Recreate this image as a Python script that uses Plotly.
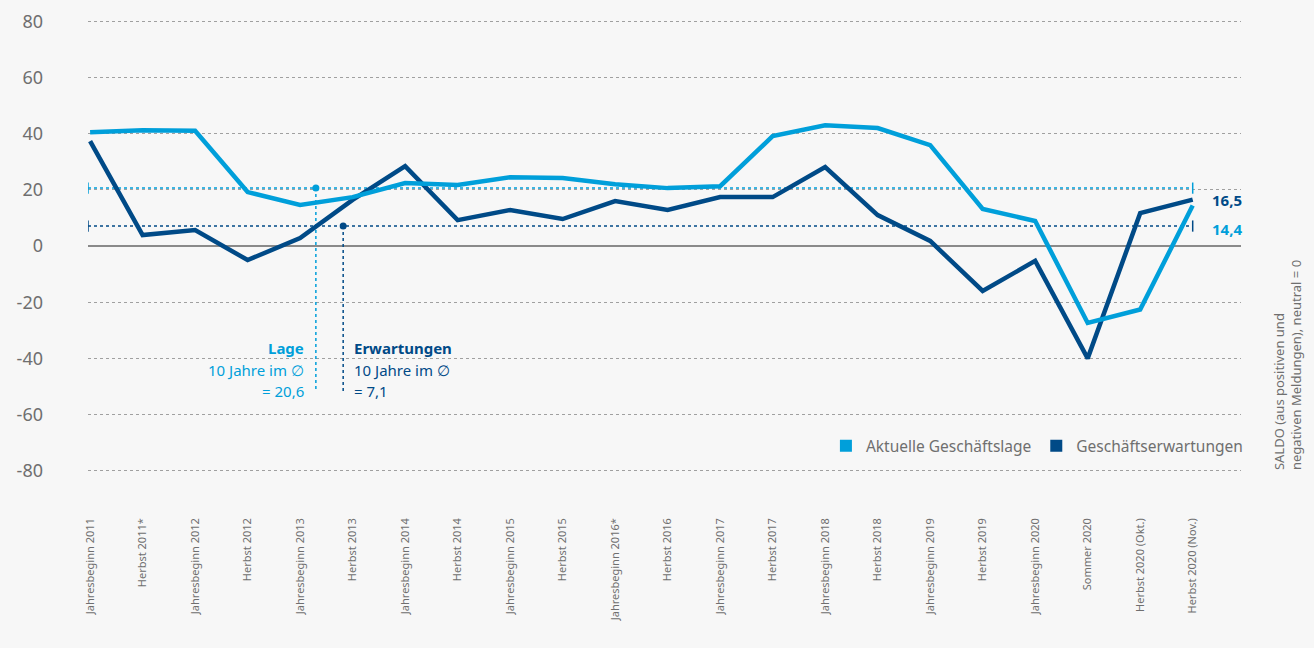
import plotly.graph_objects as go

# Kategorien (x-Achse)
categories = [
    "Jahresbeginn 2011", "Herbst 2011*", "Jahresbeginn 2012", "Herbst 2012",
    "Jahresbeginn 2013", "Herbst 2013", "Jahresbeginn 2014", "Herbst 2014",
    "Jahresbeginn 2015", "Herbst 2015", "Jahresbeginn 2016*", "Herbst 2016",
    "Jahresbeginn 2017", "Herbst 2017", "Jahresbeginn 2018", "Herbst 2018",
    "Jahresbeginn 2019", "Herbst 2019", "Jahresbeginn 2020", "Sommer 2020",
    "Herbst 2020 (Okt.)", "Herbst 2020 (Nov.)",
]

# Saldo-Werte
lage = [40.5, 41.2, 41.0, 19.2, 14.6, 17.4, 22.4, 21.7, 24.5, 24.2, 22.0,
        20.6, 21.3, 39.1, 43.0, 42.0, 35.9, 13.2, 8.9, -27.4, -22.6, 14.4]
erwartungen = [37.3, 3.9, 5.7, -5.0, 2.8, 16.4, 28.4, 9.2, 12.8, 9.6, 16.0,
               12.8, 17.4, 17.4, 28.1, 11.0, 1.8, -16.0, -5.3, -40.0, 11.7, 16.5]

avg_lage = 20.6
avg_erwartungen = 7.1

y_ticks = [-80, -60, -40, -20, 0, 20, 40, 60, 80]
y_ticktext = ["-80", "-60", "-40", "-20", "0", "20", "40", "60", "80"]

LIGHT = "#009fda"
DARK = "#004a87"
GRAY = "#6f6f6f"
FONT = "Noto Sans"

x_idx = list(range(len(categories)))
last = x_idx[-1]

fig = go.Figure()

# Durchschnittslinien (gepunktet, mit Endstrichen)
for val, col in [(avg_lage, LIGHT), (avg_erwartungen, DARK)]:
    fig.add_trace(go.Scatter(
        x=[-0.04, last], y=[val, val], mode="lines+markers",
        line=dict(color=col, width=1.5, dash="dot"),
        marker=dict(symbol="line-ns", size=8, line=dict(color=col, width=1.5)),
        showlegend=False, hoverinfo="skip"
    ))

# Senkrechte Hinweislinien zu den Durchschnittswerten
for xv, val, col in [(4.3, avg_lage, LIGHT), (4.82, avg_erwartungen, DARK)]:
    fig.add_trace(go.Scatter(
        x=[xv, xv], y=[val, -52], mode="lines",
        line=dict(color=col, width=1.5, dash="dot"),
        showlegend=False, hoverinfo="skip"
    ))
    fig.add_trace(go.Scatter(
        x=[xv], y=[val], mode="markers",
        marker=dict(color=col, size=7),
        showlegend=False, hoverinfo="skip"
    ))

# Hauptlinien
fig.add_trace(go.Scatter(
    x=x_idx, y=erwartungen, mode="lines",
    line=dict(color=DARK, width=4.5), showlegend=False
))
fig.add_trace(go.Scatter(
    x=x_idx, y=lage, mode="lines",
    line=dict(color=LIGHT, width=4.5), showlegend=False
))

# Legende mit quadratischen Markern
for name, col in [("Aktuelle Geschäftslage", LIGHT), ("Geschäftserwartungen", DARK)]:
    fig.add_trace(go.Scatter(
        x=[None], y=[None], mode="markers", name=name,
        marker=dict(symbol="square", size=17, color=col)
    ))

annotations = [
    dict(x=last + 0.33, y=16.5, text="<b>16,5</b>", font=dict(color=DARK, size=15),
         xanchor="left", yanchor="middle"),
    dict(x=last + 0.33, y=6.2, text="<b>14,4</b>", font=dict(color=LIGHT, size=15),
         xanchor="left", yanchor="middle"),
    dict(x=4.12, y=-36.3, text="<b>Lage</b>", font=dict(color=LIGHT, size=15),
         xanchor="right", yanchor="middle"),
    dict(x=4.12, y=-44.0, text="10 Jahre im ∅", font=dict(color=LIGHT, size=15),
         xanchor="right", yanchor="middle"),
    dict(x=4.12, y=-51.5, text="= 20,6", font=dict(color=LIGHT, size=15),
         xanchor="right", yanchor="middle"),
    dict(x=4.99, y=-36.3, text="<b>Erwartungen</b>", font=dict(color=DARK, size=15),
         xanchor="left", yanchor="middle"),
    dict(x=4.99, y=-44.0, text="10 Jahre im ∅", font=dict(color=DARK, size=15),
         xanchor="left", yanchor="middle"),
    dict(x=4.99, y=-51.5, text="= 7,1", font=dict(color=DARK, size=15),
         xanchor="left", yanchor="middle"),
    dict(x=1.041, xref="paper", y=-42.3, yref="y",
         text="SALDO (aus positiven und<br>negativen Meldungen), neutral = 0",
         textangle=-90, font=dict(color=GRAY, size=13), align="left",
         xanchor="center", yanchor="middle"),
]
for a in annotations:
    a.setdefault("xref", "x")
    a.setdefault("yref", "y")
    a["showarrow"] = False
    fig.add_annotation(**a)

fig.update_layout(
    width=1314, height=648,
    paper_bgcolor="#f7f7f7", plot_bgcolor="#f7f7f7",
    margin=dict(l=88, r=73, t=10, b=166),
    font=dict(family=FONT, color=GRAY),
    legend=dict(orientation="h", x=0.64, y=0.076, xanchor="left", yanchor="middle",
                font=dict(size=15.5, color=GRAY), bgcolor="rgba(0,0,0,0)",
                itemsizing="constant"),
)
fig.update_xaxes(
    range=[-0.04, 21.92], tickvals=x_idx, ticktext=categories,
    tickangle=-90, tickfont=dict(size=11, color=GRAY),
    showgrid=False, zeroline=False, showline=False, ticks="",
    ticklabelstandoff=33,
)
fig.update_yaxes(
    range=[-84, 84], tickvals=y_ticks, ticktext=y_ticktext,
    tickfont=dict(size=18, color=GRAY),
    showgrid=True, gridcolor="#a0a0a0", gridwidth=1, griddash="dot",
    zeroline=True, zerolinecolor="#8a8a8a", zerolinewidth=1.5,
    showline=False, ticks="", ticklabelstandoff=44,
)

fig.write_html(
    "out.html",
    config={"displayModeBar": False},
    post_script="document.body.style.margin='0';document.body.style.background='#f7f7f7';",
)
